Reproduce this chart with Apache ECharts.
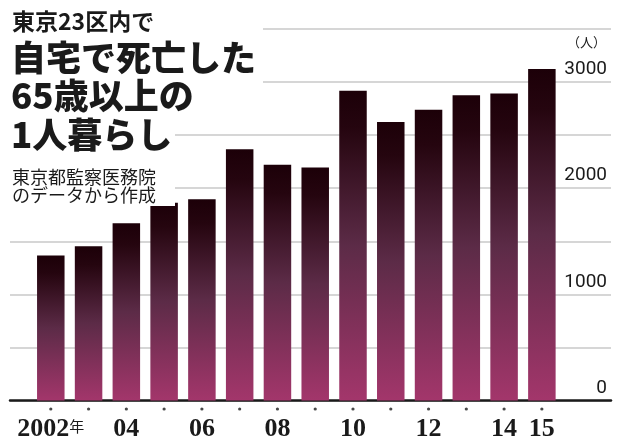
<!DOCTYPE html>
<html>
<head>
<meta charset="utf-8">
<script src="https://cdn.jsdelivr.net/npm/echarts@6/dist/echarts.min.js"></script>
<style>
html,body{margin:0;padding:0;background:#fff;}
#chart{width:620px;height:447px;}
</style>
</head>
<body>
<div id="chart"></div>
<script>
// ---- data ----
const years = [2002, 2003, 2004, 2005, 2006, 2007, 2008, 2009, 2010, 2011, 2012, 2013, 2014, 2015];
const deaths = [1365, 1454, 1671, 1864, 1896, 2366, 2221, 2195, 2919, 2625, 2739, 2877, 2893, 3123];
const labelYears = [2002, 2004, 2006, 2008, 2010, 2012, 2014, 2015];
const yTickLabels = [0, 1000, 2000, 3000];
const titleLines = ['東京23区内で', '自宅で死亡した', '65歳以上の', '1人暮らし'];
const sourceLines = ['東京都監察医務院', 'のデータから作成'];
const unitLabel = '（人）';

const chart = echarts.init(document.getElementById('chart'), null, {renderer: 'canvas'});

const barGradient = new echarts.graphic.LinearGradient(0, 0, 0, 1, [
  {offset: 0, color: '#1c0008'},
  {offset: 0.12, color: '#25050f'},
  {offset: 0.5, color: '#5c2b47'},
  {offset: 1, color: '#a3366b'}
]);

const xMin = 2000.92, xMax = 2016.83;
const jpFont = '"Noto Sans CJK JP", "Noto Sans", sans-serif';

const option = {
  animation: false,
  backgroundColor: '#ffffff',
  grid: [
    {left: 10, right: 9, top: 29, bottom: 46.5, containLabel: false},
    {left: 10, right: 9, top: 404, height: 10, containLabel: false}
  ],
  xAxis: [
    {
      type: 'value', min: xMin, max: xMax, gridIndex: 0,
      axisLine: {show: true, onZero: false, lineStyle: {color: '#1a1a1a', width: 2.5}},
      axisTick: {show: false},
      splitLine: {show: false},
      axisLabel: {
        show: true,
        customValues: labelYears,
        margin: 16,
        hideOverlap: false,
        backgroundColor: 'transparent',
        formatter: function (v) {
          if (v === labelYears[0]) return '{y|' + v + '}{n|年}';
          return '{y|' + String(v).slice(2) + '}';
        },
        rich: {
          y: {fontFamily: '"Liberation Serif", "DejaVu Serif", serif', fontWeight: 'bold', fontSize: 26, color: '#1a1a1a'},
          n: {fontFamily: jpFont, fontSize: 15, color: '#1a1a1a', padding: [0, 0, 6, 0]}
        }
      }
    },
    {
      type: 'value', min: xMin, max: xMax, gridIndex: 1, show: false
    }
  ],
  yAxis: [
    {
      type: 'value', position: 'right', min: 0, max: 3500, interval: 500, gridIndex: 0,
      axisLine: {show: false},
      axisTick: {show: false},
      splitLine: {show: true, lineStyle: {color: '#c8c8c8', width: 1.5}},
      axisLabel: {
        inside: true,
        customValues: yTickLabels,
        formatter: function (v) { return String(v); },
        margin: 4,
        verticalAlign: 'bottom',
        padding: [0, 0, 3, 0],
        fontFamily: 'Roboto, sans-serif',
        fontSize: 19,
        color: '#1a1a1a'
      }
    },
    {type: 'value', min: -1, max: 1, gridIndex: 1, show: false}
  ],
  series: [
    {
      type: 'bar',
      xAxisIndex: 0, yAxisIndex: 0,
      barWidth: 27.5,
      itemStyle: {color: barGradient},
      data: years.map((y, i) => [y, deaths[i]])
    },
    {
      type: 'scatter',
      xAxisIndex: 1, yAxisIndex: 1,
      symbol: 'circle', symbolSize: 3.2,
      clip: false,
      z: 100, zlevel: 1,
      itemStyle: {color: '#1a1a1a'},
      silent: true,
      data: years.map(y => [y, 0])
    }
  ],
  graphic: [
    {type: 'rect', z: 50, silent: true, shape: {x: 0, y: 0, width: 263, height: 92}, style: {fill: '#fff'}},
    {type: 'rect', z: 50, silent: true, shape: {x: 0, y: 92, width: 175, height: 114}, style: {fill: '#fff'}},
    {type: 'text', z: 60, style: {x: 12, y: 21.5, text: titleLines[0], font: 'bold 23px ' + jpFont, fill: '#1a1a1a', verticalAlign: 'middle'}},
    {type: 'text', z: 60, style: {x: 11, y: 57.5, text: titleLines[1], font: '900 35px ' + jpFont, fill: '#1a1a1a', verticalAlign: 'middle'}},
    {type: 'text', z: 60, style: {x: 11, y: 96, text: titleLines[2], font: '900 35px ' + jpFont, fill: '#1a1a1a', verticalAlign: 'middle'}},
    {type: 'text', z: 60, style: {x: 11, y: 135, text: titleLines[3], font: '900 35px ' + jpFont, fill: '#1a1a1a', verticalAlign: 'middle'}},
    {type: 'text', z: 60, style: {x: 12, y: 177.5, text: sourceLines[0], font: '18px ' + jpFont, fill: '#1a1a1a', verticalAlign: 'middle'}},
    {type: 'text', z: 60, style: {x: 12, y: 195.5, text: sourceLines[1], font: '18px ' + jpFont, fill: '#1a1a1a', verticalAlign: 'middle'}},
    {type: 'text', z: 60, style: {x: 606, y: 42, text: unitLabel, font: '13px ' + jpFont, fill: '#1a1a1a', align: 'right', verticalAlign: 'middle'}}
  ]
};
chart.setOption(option);
</script>
</body>
</html>
